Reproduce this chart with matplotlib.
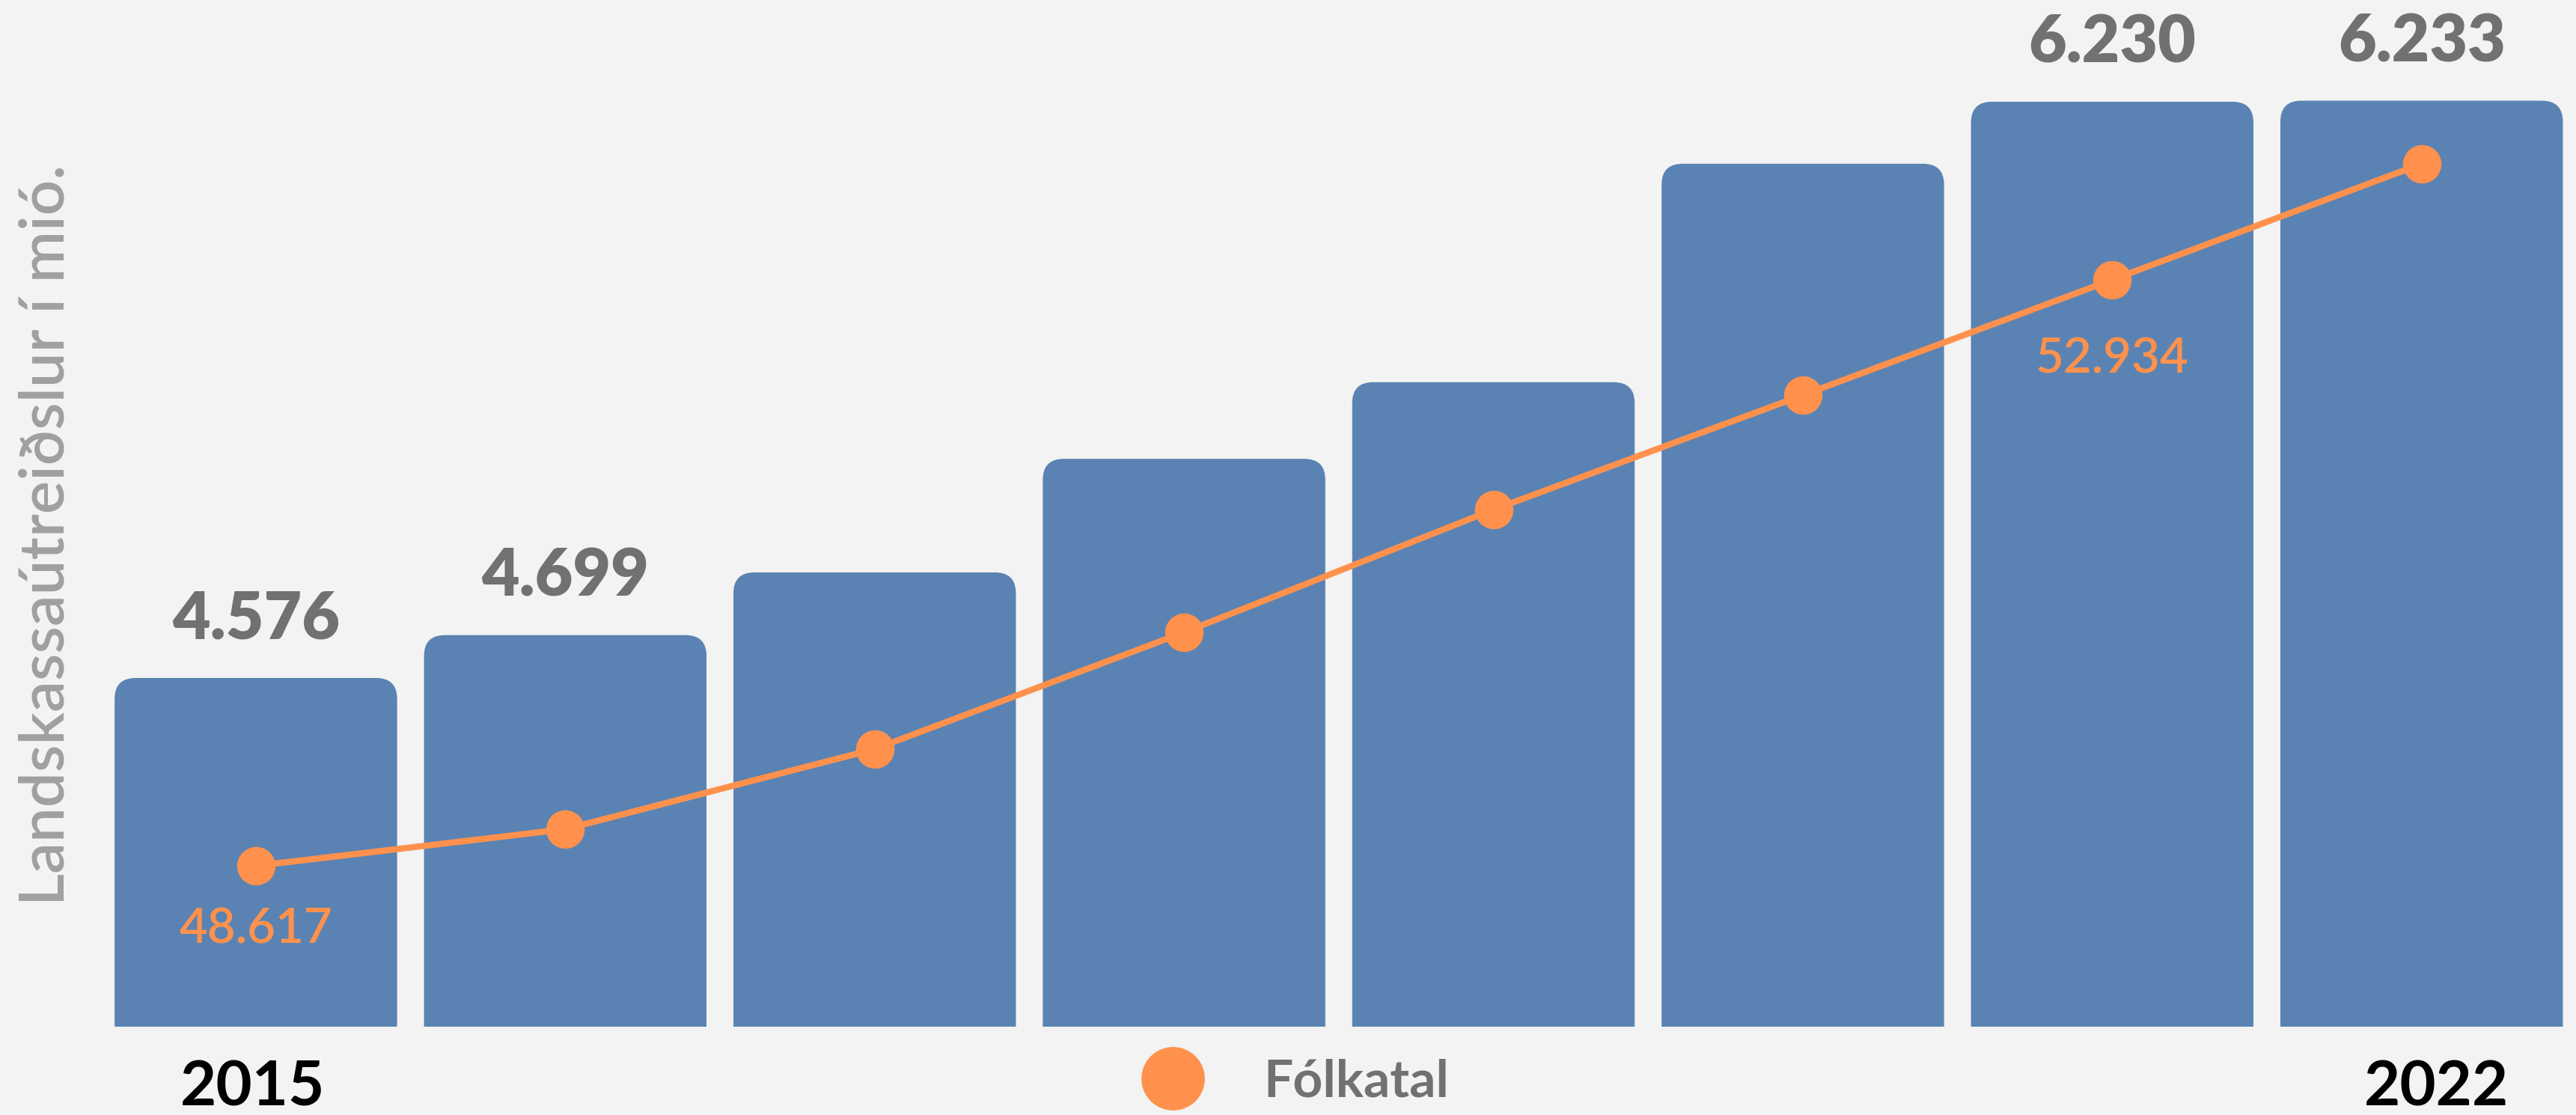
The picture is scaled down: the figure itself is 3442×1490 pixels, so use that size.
import matplotlib
matplotlib.use("Agg")
import matplotlib.pyplot as plt
from matplotlib.path import Path
from matplotlib.patches import PathPatch
from matplotlib.lines import Line2D
from matplotlib.transforms import ScaledTranslation

plt.rcParams['font.family'] = ['Lato', 'DejaVu Sans']

# ---- data ----
years = [2015, 2016, 2017, 2018, 2019, 2020, 2021, 2022]
spending = [4576, 4699, 4879, 5205, 5425, 6052, 6230, 6233]       # mió. kr
population = [48617, 48887, 49477, 50337, 51241, 52084, 52934, 53788]
bar_labels = ["4.576", "4.699", "", "", "", "", "6.230", "6.233"]
pop_labels = ["48.617", "", "", "", "", "", "52.934", ""]
year_labels = ["2015", "", "", "", "", "", "", "2022"]
ylabel = "Landskassaútreiðslur í mió."
legend_label = "Fólkatal"

BG = "#f2f3f2"
BAR = "#5a83b3"
ORANGE = "#ff914d"
GRAY = "#707173"
LGRAY = "#a0a0a0"

W, H = 3442, 1490
fig = plt.figure(figsize=(W / 100, H / 100), dpi=100, facecolor=BG)
ax = fig.add_axes([0, 118 / H, 1, 1372 / H])
ax.set_facecolor(BG)
for s in ax.spines.values():
    s.set_visible(False)

x = list(range(len(years)))
ax.set_xlim(-0.827, 7.499)
ax.set_ylim(3575, 6522)

bars = ax.bar(x, spending, width=0.913, bottom=0, color=BAR)

# rounded top corners
rx, ry = 0.068, 60.0
for b in bars:
    b.set_visible(False)
    x0, y0 = b.get_x(), 3575
    x1, y1 = b.get_x() + b.get_width(), b.get_height()
    verts = [(x0, y0), (x0, y1 - ry), (x0, y1), (x0 + rx, y1),
             (x1 - rx, y1), (x1, y1), (x1, y1 - ry), (x1, y0), (x0, y0)]
    codes = [Path.MOVETO, Path.LINETO, Path.CURVE3, Path.CURVE3,
             Path.LINETO, Path.CURVE3, Path.CURVE3, Path.LINETO, Path.CLOSEPOLY]
    ax.add_patch(PathPatch(Path(verts, codes), facecolor=BAR, edgecolor='none', zorder=2))

for xi, v, lab in zip(x, spending, bar_labels):
    if lab:
        ax.annotate(lab, (xi, v), xytext=(0, 27), textcoords='offset points',
                    ha='center', va='bottom', fontsize=63, fontweight='heavy', color=GRAY)

ax.set_xticks(x)
ax.set_xticklabels(year_labels, fontsize=60, fontweight='bold', color='black')
ax.tick_params(axis='x', length=0, pad=32)
ax.set_yticks([])
tl = ax.get_xticklabels()
tl[0].set_transform(tl[0].get_transform() + ScaledTranslation(-4 / 100, 0, fig.dpi_scale_trans))
tl[-1].set_transform(tl[-1].get_transform() + ScaledTranslation(20 / 100, 0, fig.dpi_scale_trans))

# line on twin axis
ax2 = ax.twinx()
for s in ax2.spines.values():
    s.set_visible(False)
ax2.set_ylim(47432, 54995)
ax2.set_yticks([])
ax2.plot(x, population, color=ORANGE, lw=6, marker='o', markersize=36, zorder=3)
offsets = [-40, -40, -40, -40, -40, -40, -55, -40]
for xi, v, lab, off in zip(x, population, pop_labels, offsets):
    if lab:
        ax2.annotate(lab, (xi, v), xytext=(0, off), textcoords='offset points',
                     ha='center', va='top', fontsize=47, color=ORANGE, fontweight='semibold')

fig.text(62 / W, 0.52, ylabel, rotation=90, ha='center', va='center',
         fontsize=60, fontweight='semibold', color=LGRAY)

handle = Line2D([], [], marker='o', ls='none', color=ORANGE, markersize=60)
leg = fig.legend([handle], [legend_label], loc='center', bbox_to_anchor=(1717 / W, (H - 1446) / H),
                 frameon=False, handletextpad=0.75, prop={'size': 50, 'weight': 'bold'})
for t in leg.get_texts():
    t.set_color(GRAY)

fig.savefig("out.png", dpi=100, facecolor=BG)
